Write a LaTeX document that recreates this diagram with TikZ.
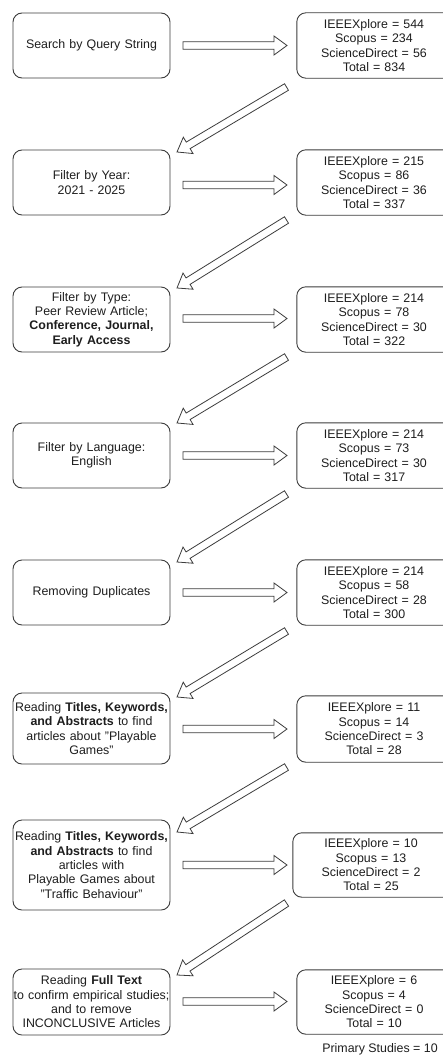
\documentclass[tikz,border=0pt]{standalone}
\usepackage{fontspec}
\setmainfont{Liberation Sans}
\usetikzlibrary{calc}
\definecolor{lc}{RGB}{60,60,60}
\definecolor{tc}{RGB}{30,30,30}
\newcommand{\blockarr}[2]{%
  \pgfpointdiff{\pgfpointanchor{#1}{center}}{\pgfpointanchor{#2}{center}}%
  \pgfgetlastxy{\bdx}{\bdy}%
  \pgfmathsetmacro\bang{atan2(\bdy,\bdx)}%
  \pgfmathsetmacro\blen{veclen(\bdx,\bdy)}%
  \begin{scope}[shift={(#1)},rotate=\bang]
    \draw[barrow] (0pt,3.8pt) -- ({\blen pt-13pt},3.8pt) -- ({\blen pt-13pt},9.5pt)
      -- (\blen pt,0pt) -- ({\blen pt-13pt},-9.5pt) -- ({\blen pt-13pt},-3.8pt)
      -- (0pt,-3.8pt) -- cycle;
  \end{scope}}
\tikzset{
  txt/.style={align=center, inner sep=0pt, text=tc, font=\fontsize{12.4}{14.3}\selectfont},
  box/.style={txt, draw=lc, line width=0.9pt, rounded corners=9pt},
  lbox/.style={box, text width=157pt, minimum width=157pt},
  rbox/.style={txt, text width=154pt, minimum width=154pt},
  rframe/.style={draw=lc, line width=0.9pt, rounded corners=9pt},
  barrow/.style={draw=lc, line width=0.8pt, fill=white, line join=miter},
}
\begin{document}
\begin{tikzpicture}[x=1pt,y=-1pt]
\fill[white] (0,0) rectangle (443,1057);
\useasboundingbox (0,0) rectangle (443,1057);
\clip (0,0) rectangle (443,1057);
% left boxes
\node[lbox, minimum height=65pt] (L1) at (91.5,45.5) {Search by Query String};
\node[lbox, minimum height=65pt] (L2) at (91.5,182.5) {Filter by Year:\\2021 - 2025};
\node[lbox, minimum height=65pt] (L3) at (91.5,319.5) {Filter by Type:\\Peer Review Article;\\\textbf{Conference, Journal,}\\\textbf{Early Access}};
\node[lbox, minimum height=65pt] (L4) at (91.5,455.5) {Filter by Language:\\English};
\node[lbox, minimum height=65pt] (L5) at (91.5,592.5) {Removing Duplicates};
\node[lbox, minimum height=71pt] (L6) at (91.5,728.5) {Reading \textbf{Titles, Keywords,}\\\textbf{and Abstracts} to find\\articles about "Playable\\Games"};
\node[lbox, minimum height=90pt] (L7) at (91.5,865) {Reading \textbf{Titles, Keywords,}\\\textbf{and Abstracts} to find\\articles with\\Playable Games about\\"Traffic Behaviour"};
\node[lbox, minimum height=66pt] (L8) at (91.5,1002) {Reading \textbf{Full Text}\\to confirm empirical studies;\\and to remove\\INCONCLUSIVE Articles};
% right boxes (cut off by the right edge of the picture)
\node[rbox, minimum height=65pt] (R1) at (374,45.5) {IEEEXplore = 544\\Scopus = 234\\ScienceDirect = 56\\Total = 834};
\node[rbox, minimum height=65pt] (R2) at (374,182.5) {IEEEXplore = 215\\Scopus = 86\\ScienceDirect = 36\\Total = 337};
\node[rbox, minimum height=65pt] (R3) at (374,319.5) {IEEEXplore = 214\\Scopus = 78\\ScienceDirect = 30\\Total = 322};
\node[rbox, minimum height=65pt] (R4) at (374,455.5) {IEEEXplore = 214\\Scopus = 73\\ScienceDirect = 30\\Total = 317};
\node[rbox, minimum height=65pt] (R5) at (374,592.5) {IEEEXplore = 214\\Scopus = 58\\ScienceDirect = 28\\Total = 300};
\node[rbox, minimum height=66pt] (R6) at (374,729) {IEEEXplore = 11\\Scopus = 14\\ScienceDirect = 3\\Total = 28};
\node[rbox, minimum height=64pt, text width=156pt, minimum width=156pt] (R7) at (371,865) {IEEEXplore = 10\\Scopus = 13\\ScienceDirect = 2\\Total = 25};
\node[rbox, minimum height=64pt] (R8) at (374,1002) {IEEEXplore = 6\\Scopus = 4\\ScienceDirect = 0\\Total = 10};
\foreach \r in {R1,R2,R3,R4,R5,R6,R7,R8}{
  \draw[rframe] (\r.north west) rectangle ([xshift=40pt]\r.south east);
}
\node[txt] (PS) at (380,1049) {Primary Studies = 10};
% horizontal arrows
\foreach \i/\y in {1/45.5,2/185,3/318.5,4/455.5,5/592.5,6/729,7/865,8/1001.5}{
  \coordinate (h\i a) at (183,\y);
  \coordinate (h\i b) at (287,\y);
}
\foreach \i in {1,...,8}{\blockarr{h\i a}{h\i b}}
% diagonal arrows
\foreach \i/\ya/\yb in {1/87/152,2/220/288,3/357/423,4/494/562,5/631/697,6/767/832,7/903/975}{
  \coordinate (d\i a) at (286.5,\ya);
  \coordinate (d\i b) at (177,\yb);
}
\foreach \i in {1,...,7}{\blockarr{d\i a}{d\i b}}
\end{tikzpicture}
\end{document}
